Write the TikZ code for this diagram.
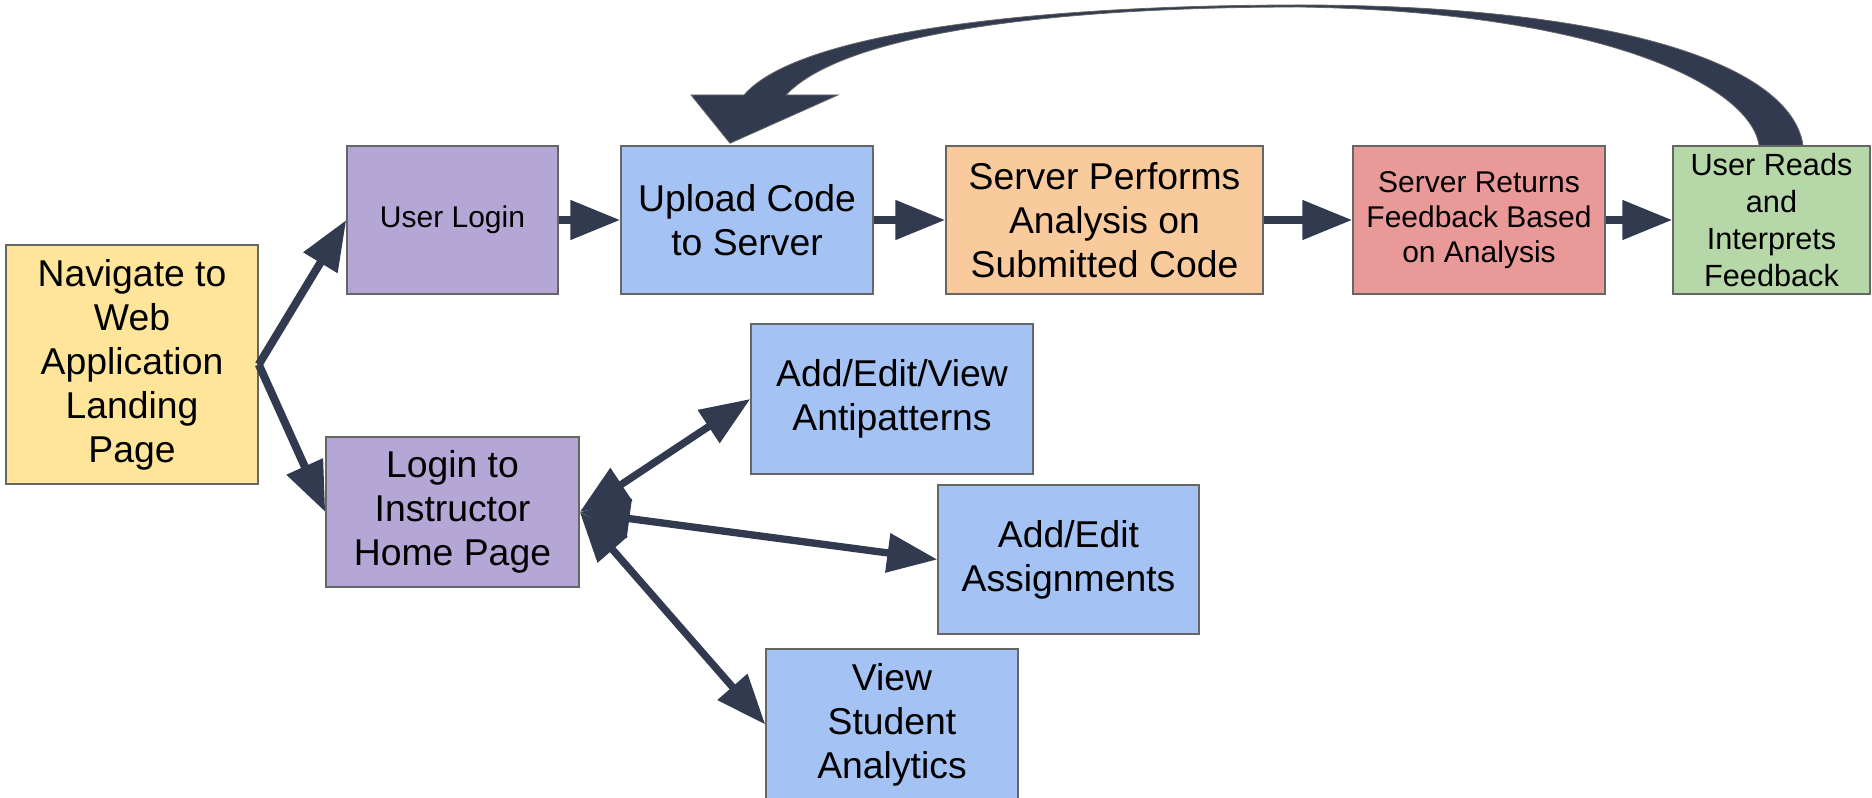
\documentclass[tikz,border=0pt]{standalone}
\usepackage{fontspec}
\setmainfont{Liberation Sans}
\usetikzlibrary{arrows.meta,calc}
\definecolor{arrowc}{HTML}{313A4E}
\definecolor{edgec}{HTML}{666666}
\definecolor{cyellow}{HTML}{FFE599}
\definecolor{cpurple}{HTML}{B4A7D6}
\definecolor{cblue}{HTML}{A4C2F4}
\definecolor{corange}{HTML}{F9CB9C}
\definecolor{cred}{HTML}{EA9999}
\definecolor{cgreen}{HTML}{B6D7A8}
\begin{document}
\begin{tikzpicture}[x=0.75pt,y=-0.75pt,
 box/.style={draw=edgec, line width=1.1pt, rectangle, align=center, inner sep=0pt, text=black},
 big/.style={font=\fontsize{28pt}{33pt}\selectfont},
 small/.style={font=\fontsize{22.5pt}{26pt}\selectfont},
 midf/.style={font=\fontsize{23pt}{27.8pt}\selectfont},
 conn/.style={draw=arrowc, line width=6pt, -{Triangle[length=37.5pt,width=28.5pt]}},
 dconn/.style={draw=arrowc, line width=5.5pt, {Triangle[length=37.5pt,width=28.5pt]}-{Triangle[length=37.5pt,width=28.5pt]}},
]
\useasboundingbox (0,0) rectangle (1872,798);

\node[box, big, fill=cyellow, minimum width=189pt, minimum height=179.25pt] (nav) at (132,364.5) {Navigate to\\Web\\Application\\Landing\\Page};
\node[box, small, fill=cpurple, minimum width=158.25pt, minimum height=111pt] (ul) at (452.5,220) {User Login};
\node[box, big, fill=cblue, minimum width=189pt, minimum height=111pt] (up) at (747,220) {Upload Code\\to Server};
\node[box, big, fill=corange, minimum width=237.75pt, minimum height=111pt] (sp) at (1104.5,220) {Server Performs\\Analysis on\\Submitted Code};
\node[box, small, fill=cred, minimum width=189pt, minimum height=111pt] (sr) at (1479,220) {Server Returns\\Feedback Based\\on Analysis};
\node[box, midf, fill=cgreen, minimum width=147.75pt, minimum height=111pt] (urf) at (1771.5,220) {User Reads\\and\\Interprets\\Feedback};
\node[box, big, fill=cblue, minimum width=211.5pt, minimum height=112.5pt] (anti) at (892,399) {Add/Edit/View\\Antipatterns};
\node[box, big, fill=cpurple, minimum width=189.75pt, minimum height=112.5pt] (lih) at (452.5,512) {Login to\\Instructor\\Home Page};
\node[box, big, fill=cblue, minimum width=195.75pt, minimum height=111.75pt] (asg) at (1068.5,559.5) {Add/Edit\\Assignments};
\node[box, big, fill=cblue, minimum width=189pt, minimum height=113pt] (vsa) at (892,724.5) {View\\Student\\Analytics};

\draw[conn] (nav.east) -- (ul.west);
\draw[conn] (nav.east) -- (lih.west);
\draw[conn] (ul.east) -- (up.west);
\draw[conn] (up.east) -- (sp.west);
\draw[conn] (sp.east) -- (sr.west);
\draw[conn] (sr.east) -- (urf.west);
\draw[dconn] (lih.east) -- (anti.west);
\draw[dconn] (lih.east) -- (asg.west);
\draw[dconn] (lih.east) -- (vsa.west);

\coordinate (tip) at ($(up.north)+(-17,-2)$);
\coordinate (s1) at ($(urf.north)+(31.5,0)$);
\coordinate (s2) at ($(urf.north)+(-12.5,0)$);
\fill[arrowc, draw=edgec, line width=0.6pt]
 (744,95) .. controls (800,30) and (1050,5) .. (1300,5) .. controls (1600,5) and (1790,60) .. (s1)
 -- (s2) .. controls (1750,85) and (1600,12) .. (1300,7) .. controls (1060,7) and (845,32) .. (786,95)
 -- (838,95) -- (tip) -- (691,95) -- cycle;
\end{tikzpicture}
\end{document}
